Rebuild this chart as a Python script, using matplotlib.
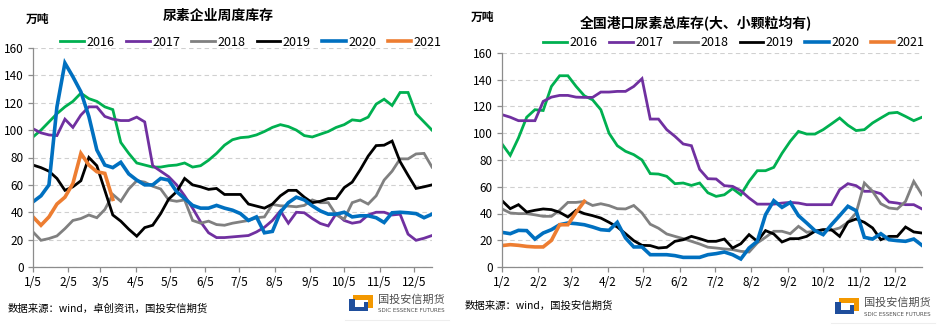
import numpy as np
import matplotlib
matplotlib.use("Agg")
from matplotlib import pyplot as plt
from matplotlib.patches import Rectangle
from matplotlib.lines import Line2D

plt.rcParams['font.family'] = ['Noto Sans CJK SC', 'DejaVu Sans']

# 数据 (万吨)，周度
years = ['2016', '2017', '2018', '2019', '2020', '2021']
colors = ['#00B050', '#7030A0', '#808080', '#000000', '#0070C0', '#ED7D31']
widths = [2.0, 2.0, 2.0, 2.0, 2.6, 2.6]

# 尿素企业周度库存，从1/5开始
ent_2016 = [95, 100, 106, 112, 117, 121, 127, 123, 121, 117, 115, 91, 83, 76, 74.5, 73, 73, 74, 74.5, 76,
            73, 74, 78, 83, 89, 93, 94.5, 95, 96.5, 99, 102, 104, 102.6, 100, 96, 95, 97, 99, 102, 104,
            107.5, 106.8, 109.5, 119, 122.6, 118, 127.5, 127.5, 112, 106, 100]
ent_2017 = [101, 98, 96.5, 96, 108, 102, 111, 117, 117, 110, 108, 107, 107, 109.5, 106, 74, 70, 66, 60, 52,
            43, 33, 25, 21.5, 21.5, 22, 22.5, 23, 25.6, 29, 34, 41, 32, 40, 39.6, 35.4, 31.8, 30, 39, 34,
            32, 33, 38, 40, 40, 38, 38.6, 24, 19.5, 21, 23]
ent_2018 = [25.6, 19.5, 20.8, 22.7, 28, 34, 35.4, 38, 36, 42, 53, 48, 57, 63, 62, 59, 57, 49, 48, 49,
            34, 32, 33.5, 31, 30.5, 32, 33, 34, 36, 36.6, 45.7, 44.7, 44.5, 44, 45, 49, 47, 47, 38, 35,
            47, 49, 46, 52, 63.5, 70, 79, 79, 82.6, 83, 73]
ent_2019 = [74.5, 72.6, 70, 64.7, 56, 58.6, 63, 80, 74, 56, 38, 33.5, 27.6, 22.5, 28.8, 30.5, 39, 49.6, 55, 64.7,
            60, 58.6, 56.7, 57.4, 53, 53, 53, 46, 44.5, 43, 46, 52, 56, 56, 51, 47, 48, 50, 50, 58,
            62, 71, 81, 88.7, 89, 92, 77, 67, 57.4, 58.6, 60]
ent_2020 = [47.6, 52, 60, 117, 149, 139, 128, 110, 85.5, 74.5, 72.6, 76.5, 68, 63.5, 60, 60, 64.7, 63.5, 55, 50,
            45, 43, 43, 45, 43, 41.5, 39, 34, 36.6, 25, 26, 40, 47, 51, 49, 44.7, 41, 38.6, 38.6, 40,
            36.6, 37.4, 37.4, 36, 32.5, 39.6, 40, 39.6, 39, 36, 38.6]
ent_2021 = [36.6, 30.5, 36.6, 46, 51, 61, 83, 74.5, 69.6, 68.4, 49.4]

# 全国港口尿素总库存，从1/2开始
port_2016 = [92, 83.5, 96.5, 112, 117.6, 117, 135, 143, 143, 135, 128, 125, 117.6, 100, 90.7, 86.5, 84, 80, 69.8, 69.5,
             67.8, 62.3, 62.8, 61, 62.8, 55.5, 52.8, 54, 58.6, 54, 64, 72, 72, 74.5, 85, 94, 101.4, 99.4, 99.4, 102.7,
             107, 111.4, 106, 102, 102.7, 107.7, 111.4, 115, 115.6, 112.6, 109.4, 112]
port_2017 = [113.9, 112, 109.4, 109.4, 109.4, 123.8, 127, 128.3, 128.3, 127, 126.8, 126.8, 130.8, 130.8, 131.3, 131.3, 135, 140.8, 110.6, 110.6,
             102.7, 97.7, 92, 90.7, 73, 66, 65.8, 60.8, 60.3, 57, 51.6, 47, 47, 47, 47.8, 48.3, 47.8, 46.6, 46.6, 46.6,
             46.6, 57.8, 62.3, 60.8, 56.6, 56.6, 54.8, 48.6, 47.8, 46.6, 46.6, 43.4]
port_2018 = [43.4, 40.4, 39.9, 39.9, 39, 37.9, 37.9, 42.4, 48.3, 48.3, 49, 46, 47.3, 45.9, 43.6, 43.4, 46, 40.4, 32, 29,
             24.7, 22.9, 21.2, 19.2, 17.2, 14.8, 14.2, 13.5, 13, 11.7, 11.2, 18, 22.2, 26.7, 26.7, 24.9, 30.4, 26, 26.7, 27.9,
             27.4, 29.2, 33.4, 40.4, 62.8, 56.6, 47.3, 44.1, 43.4, 49, 64, 54]
port_2019 = [49.6, 43.6, 46.6, 41.1, 42.4, 43.4, 42.9, 40.9, 37.4, 42.4, 39.9, 38.4, 36.6, 33.4, 29.9, 24.9, 19.7, 16.2, 16, 14.2,
             14.7, 19.2, 20.4, 22.9, 21.2, 19.2, 19.2, 20.9, 14.2, 17.4, 24.2, 19.2, 27.2, 24.7, 18.7, 21.2, 21.2, 22.9, 26.7, 27.9,
             27.9, 22.9, 33.6, 35.9, 33.4, 29.2, 20.4, 22.9, 22.9, 29.9, 26.2, 25.4]
port_2020 = [25.9, 24.9, 27.4, 27.2, 20.9, 25.4, 27.9, 31.6, 32.9, 32.4, 31.6, 29.9, 27.9, 27.4, 33.4, 21.7, 15, 15, 9.2, 9.2,
             9.2, 8.5, 7.2, 7.2, 7.2, 9.2, 10, 11.2, 9.2, 6, 14.2, 19.2, 39.1, 49.6, 44.6, 48.3, 38.4, 32.9, 27.2, 24.2,
             31.6, 38.4, 45.4, 42.1, 22.2, 20.9, 24.9, 20.4, 19.7, 19.2, 20.9, 16.2]
port_2021 = [16, 16.7, 16.2, 15.4, 15, 15, 19.9, 31.6, 31.6, 40.9, 49.1]

month_days = [0, 31, 59, 90, 120, 151, 181, 212, 243, 273, 304, 334]
ent_ticks = ['1/5', '2/5', '3/5', '4/5', '5/5', '6/5', '7/5', '8/5', '9/5', '10/5', '11/5', '12/5']
port_ticks = ['1/2', '2/2', '3/2', '4/2', '5/2', '6/2', '7/2', '8/2', '9/2', '10/2', '11/2', '12/2']

W, H = 943, 329
fig = plt.figure(figsize=(W / 100, H / 100), dpi=100)


def fx(px):
    return px / W


def fy(py):
    return 1 - py / H


def draw_panel(rect, series, ticks, xmax, legend_xy):
    ax = fig.add_axes(rect)
    for vals, c, lw, lab in zip(series, colors, widths, years):
        x = np.arange(len(vals)) * 7
        ax.plot(x, vals, color=c, lw=lw, label=lab, solid_joinstyle='miter')
    ax.set_xlim(0, xmax)
    ax.set_ylim(0, 160)
    ax.set_yticks(range(0, 161, 20))
    ax.set_xticks(month_days)
    ax.set_xticklabels(ticks)
    ax.grid(axis='y', color='#d0d0d0', lw=0.8, ls=(0, (4, 3)))
    ax.set_axisbelow(True)
    for s in ['top', 'right']:
        ax.spines[s].set_visible(False)
    for s in ['left', 'bottom']:
        ax.spines[s].set_color('#8c8c8c')
        ax.spines[s].set_linewidth(0.9)
    ax.tick_params(axis='both', labelsize=8.5, color='#8c8c8c', length=3.5, width=0.9, pad=3)
    ax.legend(ncol=6, loc='center', bbox_to_anchor=legend_xy, bbox_transform=fig.transFigure,
              frameon=False, fontsize=9, handlelength=1.9, handletextpad=0.2, columnspacing=0.9,
              borderaxespad=0, borderpad=0)
    return ax


draw_panel([fx(33), fy(267), fx(432) - fx(33), fy(48) - fy(267)],
           [ent_2016, ent_2017, ent_2018, ent_2019, ent_2020, ent_2021],
           ent_ticks, 350, (fx(251), fy(42)))
draw_panel([fx(502), fy(267), fx(922) - fx(502), fy(53) - fy(267)],
           [port_2016, port_2017, port_2018, port_2019, port_2020, port_2021],
           port_ticks, 357, (fx(734), fy(43)))

# 标题
fig.text(fx(38), fy(19), '万吨', fontsize=8.5, fontweight='bold', ha='center', va='center')
fig.text(fx(218), fy(16), '尿素企业周度库存', fontsize=10, fontweight='bold', ha='center', va='center')
fig.text(fx(483), fy(17), '万吨', fontsize=8.5, fontweight='bold', ha='center', va='center')
fig.text(fx(696), fy(24), '全国港口尿素总库存(大、小颗粒均有)', fontsize=10, fontweight='bold',
         ha='center', va='center')

# 来源
fig.text(fx(8), fy(309), '数据来源：wind，卓创资讯，国投安信期货', fontsize=7.5, ha='left', va='center')
fig.text(fx(465), fy(306), '数据来源：wind，国投安信期货', fontsize=7.5, ha='left', va='center')


def logo(x0, y0):
    # x0, y0 = 左上角像素位置
    blue = '#1F4E9C'
    orange = '#F39800'

    def box(x, y, w, h, c):
        fig.patches.append(Rectangle((fx(x), fy(y + h)), w / W, h / H, color=c, lw=0,
                                     transform=fig.transFigure, figure=fig))
    box(x0 + 4, y0, 20, 5, orange)
    box(x0 + 19, y0, 5, 13, orange)
    box(x0, y0 + 4, 6, 12, blue)
    box(x0, y0 + 12, 19, 4, blue)
    box(x0 + 15, y0 + 7, 4, 9, blue)
    fig.text(fx(x0 + 29), fy(y0 + 5), '国投安信期货', fontsize=8, color='#505050', ha='left', va='center')
    fig.text(fx(x0 + 29), fy(y0 + 16), 'SDIC ESSENCE FUTURES', fontsize=4, color='#505050',
             ha='left', va='center', family='Liberation Sans Narrow')
    fig.lines.append(Line2D([fx(x0 - 4), fx(x0 + 100)], [fy(y0 + 25), fy(y0 + 25)], color='#eeeeee',
                            lw=0.8, transform=fig.transFigure, figure=fig))


logo(349, 295)
logo(835, 298)

fig.savefig('out.png', dpi=100)
